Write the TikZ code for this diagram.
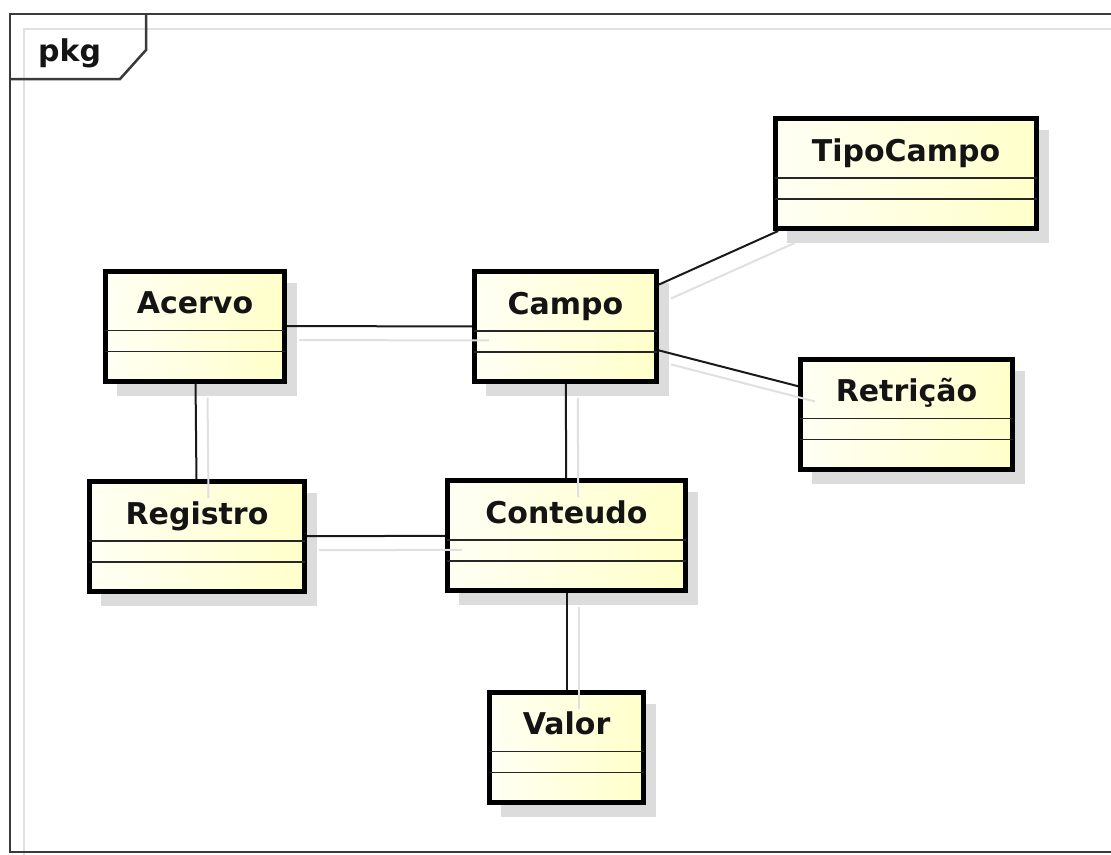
\documentclass[tikz,border=0pt]{standalone}
\usepackage{fontspec}
\setmainfont{DejaVu Sans}
\usetikzlibrary{calc}

\definecolor{boxlight}{HTML}{FFFFF4}
\definecolor{boxyellow}{HTML}{FFFFCA}
\definecolor{shadowgray}{HTML}{DCDCDC}
\definecolor{lineshadow}{HTML}{E0E0E0}
\definecolor{framegray}{HTML}{3A3A3A}
\definecolor{textdark}{HTML}{141414}

% One UML class: shadow, box with two empty compartments, and its name.
% #1 node name, #2/#3 centre, #4 outer width, #5 class name
\newcommand\umlclass[5]{%
  \fill[shadowgray] ($(#2,#3)+(-#4/2+14,-57.5+14)$) rectangle ($(#2,#3)+(#4/2+10,57.5+12)$);
  \node[classbox, minimum width=#4pt-5pt, minimum height=110pt] (#1) at (#2,#3) {};
  \draw[compline] ($(#1.north west)+(2,62)$) -- ($(#1.north east)+(-2,62)$);
  \draw[compline] ($(#1.north west)+(2,83)$) -- ($(#1.north east)+(-2,83)$);
  \node[classname] (#1-name) at ($(#1.north)+(0,45)$) {#5};
}

\begin{document}
\begin{tikzpicture}[x=1pt,y=-1pt,
  classbox/.style={draw=black, line width=5pt, left color=boxlight, right color=boxyellow, inner sep=0pt},
  compline/.style={draw=black!85, line width=1.6pt},
  textfont/.style={text=textdark, font=\fontsize{30}{36}\selectfont\bfseries},
  classname/.style={anchor=base, inner sep=0pt, textfont},
  conn/.style={draw=black!90, line width=2pt},
  connshadow/.style={draw=lineshadow, line width=2pt, transform canvas={shift={(12pt,-14pt)}}, shorten >=-5pt},
]
\useasboundingbox (0,0) rectangle (1111,854);
\clip (0,0) rectangle (1111,854);
\fill[white] (0,0) rectangle (1111,854);

% package frame and its shadow
\draw[lineshadow, line width=2pt] (24,1200) -- (24,29) -- (1200,29);
\draw[framegray, line width=2.5pt] (10,14) rectangle (1200,852);
\draw[framegray, line width=2.5pt] (10,79) -- (120,79) -- (146,50) -- (146,14);
\node[anchor=base west, inner sep=0pt, textfont] (pkg) at (38,61) {pkg};

% classes
\umlclass{acervo}{195}{326}{184}{Acervo}
\umlclass{campo}{565.5}{326.5}{187}{Campo}
\umlclass{tipocampo}{906}{173.5}{266}{TipoCampo}
\umlclass{retricao}{906.5}{414}{217}{Retrição}
\umlclass{registro}{197}{536.5}{220}{Registro}
\umlclass{conteudo}{566.5}{535.5}{243}{Conteudo}
\umlclass{valor}{566.5}{747}{159}{Valor}

% associations
\draw[conn] (acervo) -- (campo);
\draw[conn] (acervo) -- (registro);
\draw[conn] (campo) -- (tipocampo);
\draw[conn] (campo) -- (retricao);
\draw[conn] (campo) -- (conteudo);
\draw[conn] (registro) -- (conteudo);
\draw[conn] (conteudo) -- (valor);

% association shadows
\draw[connshadow] (acervo) -- (campo);
\draw[connshadow] (acervo) -- (registro);
\draw[connshadow] (campo) -- (tipocampo);
\draw[connshadow] (campo) -- (retricao);
\draw[connshadow] (campo) -- (conteudo);
\draw[connshadow] (registro) -- (conteudo);
\draw[connshadow] (conteudo) -- (valor);
\end{tikzpicture}
\end{document}
